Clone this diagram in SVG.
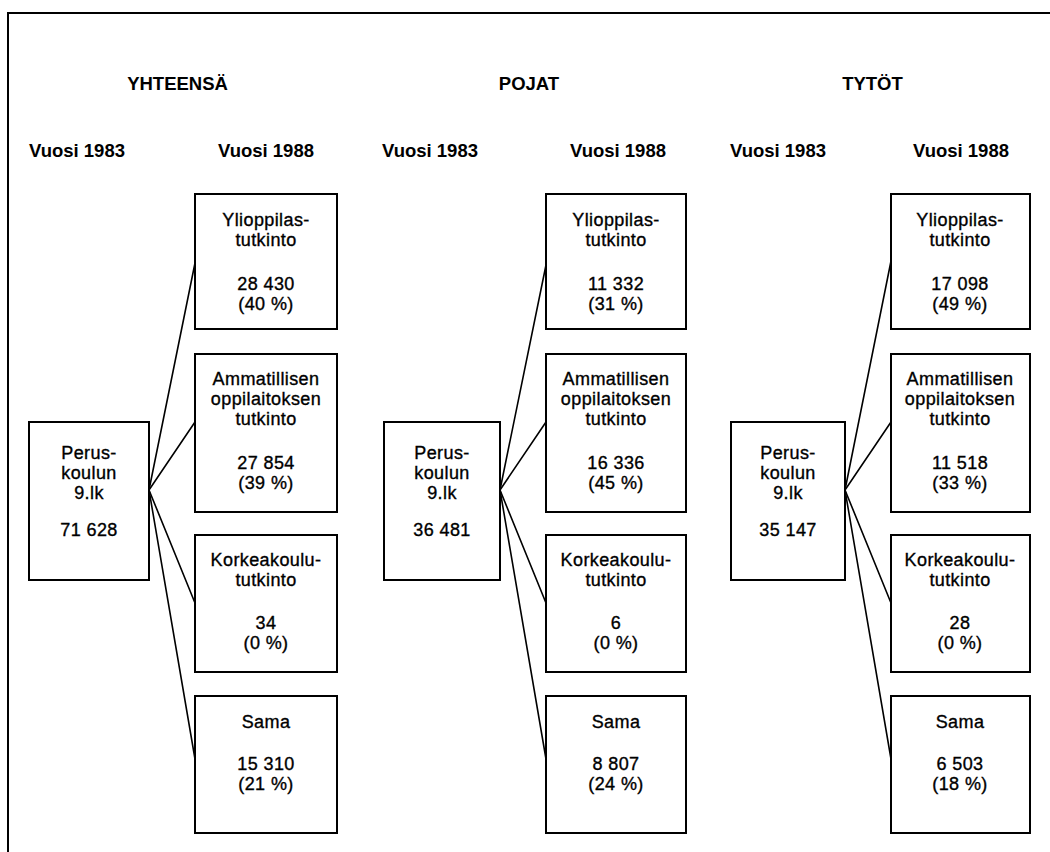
<svg xmlns="http://www.w3.org/2000/svg" width="1050" height="852" viewBox="0 0 1050 852">
<style>
.frame{fill:none;stroke:#000;stroke-width:2}
.box{fill:#fff;stroke:#000;stroke-width:2}
.conn line{stroke:#000;stroke-width:1.6;stroke-linecap:round}
.h{font-family:"Liberation Sans",Arial,sans-serif;font-weight:bold;font-size:18.5px;fill:#000}
.hc{text-anchor:middle}
.t{font-family:"Liberation Sans",Arial,sans-serif;font-size:18px;letter-spacing:0.4px;text-anchor:middle;fill:#000;stroke:#000;stroke-width:0.35}
</style>
<rect x="0" y="0" width="1050" height="852" fill="#fff"/>
<path class="frame" d="M8,852 V13 H1050"/>

<g id="headers">
  <text class="h hc" x="177.5" y="90">YHTEENSÄ</text>
  <text class="h hc" x="529" y="90">POJAT</text>
  <text class="h hc" x="872.5" y="90">TYTÖT</text>
  <text class="h" x="29" y="157">Vuosi 1983</text>
  <text class="h" x="218" y="157">Vuosi 1988</text>
  <text class="h" x="382" y="157">Vuosi 1983</text>
  <text class="h" x="570" y="157">Vuosi 1988</text>
  <text class="h" x="730" y="157">Vuosi 1983</text>
  <text class="h" x="913" y="157">Vuosi 1988</text>
</g>

<g id="connectors" class="conn">
  <line x1="149" y1="490" x2="195" y2="263"/>
  <line x1="149" y1="490" x2="195" y2="422"/>
  <line x1="149" y1="490" x2="195" y2="603"/>
  <line x1="149" y1="490" x2="195" y2="759"/>
  <line x1="500" y1="490" x2="546" y2="265"/>
  <line x1="500" y1="490" x2="546" y2="422"/>
  <line x1="500" y1="490" x2="546" y2="603"/>
  <line x1="500" y1="490" x2="546" y2="759"/>
  <line x1="845" y1="490" x2="891" y2="261"/>
  <line x1="845" y1="490" x2="891" y2="422"/>
  <line x1="845" y1="490" x2="891" y2="603"/>
  <line x1="845" y1="490" x2="891" y2="759"/>
</g>

<!-- YHTEENSÄ -->
<g id="total-1983">
  <rect class="box" x="29" y="422" width="120" height="158"/>
  <text class="t" x="89" y="459">Perus-</text>
  <text class="t" x="89" y="479">koulun</text>
  <text class="t" x="89" y="499">9.lk</text>
  <text class="t" x="89" y="536">71 628</text>
</g>
<g id="total-ylioppilas">
  <rect class="box" x="195" y="194" width="142" height="135"/>
  <text class="t" x="266" y="226">Ylioppilas-</text>
  <text class="t" x="266" y="246">tutkinto</text>
  <text class="t" x="266" y="290">28 430</text>
  <text class="t" x="266" y="310">(40 %)</text>
</g>
<g id="total-ammatillinen">
  <rect class="box" x="195" y="354" width="142" height="158"/>
  <text class="t" x="266" y="385">Ammatillisen</text>
  <text class="t" x="266" y="405">oppilaitoksen</text>
  <text class="t" x="266" y="425">tutkinto</text>
  <text class="t" x="266" y="469">27 854</text>
  <text class="t" x="266" y="489">(39 %)</text>
</g>
<g id="total-korkeakoulu">
  <rect class="box" x="195" y="535" width="142" height="137"/>
  <text class="t" x="266" y="566">Korkeakoulu-</text>
  <text class="t" x="266" y="586">tutkinto</text>
  <text class="t" x="266" y="629">34</text>
  <text class="t" x="266" y="649">(0 %)</text>
</g>
<g id="total-sama">
  <rect class="box" x="195" y="696" width="142" height="137"/>
  <text class="t" x="266" y="728">Sama</text>
  <text class="t" x="266" y="770">15 310</text>
  <text class="t" x="266" y="790">(21 %)</text>
</g>

<!-- POJAT -->
<g id="boys-1983">
  <rect class="box" x="384" y="422" width="116" height="158"/>
  <text class="t" x="442" y="459">Perus-</text>
  <text class="t" x="442" y="479">koulun</text>
  <text class="t" x="442" y="499">9.lk</text>
  <text class="t" x="442" y="536">36 481</text>
</g>
<g id="boys-ylioppilas">
  <rect class="box" x="546" y="194" width="140" height="135"/>
  <text class="t" x="616" y="226">Ylioppilas-</text>
  <text class="t" x="616" y="246">tutkinto</text>
  <text class="t" x="616" y="290">11 332</text>
  <text class="t" x="616" y="310">(31 %)</text>
</g>
<g id="boys-ammatillinen">
  <rect class="box" x="546" y="354" width="140" height="158"/>
  <text class="t" x="616" y="385">Ammatillisen</text>
  <text class="t" x="616" y="405">oppilaitoksen</text>
  <text class="t" x="616" y="425">tutkinto</text>
  <text class="t" x="616" y="469">16 336</text>
  <text class="t" x="616" y="489">(45 %)</text>
</g>
<g id="boys-korkeakoulu">
  <rect class="box" x="546" y="535" width="140" height="137"/>
  <text class="t" x="616" y="566">Korkeakoulu-</text>
  <text class="t" x="616" y="586">tutkinto</text>
  <text class="t" x="616" y="629">6</text>
  <text class="t" x="616" y="649">(0 %)</text>
</g>
<g id="boys-sama">
  <rect class="box" x="546" y="696" width="140" height="137"/>
  <text class="t" x="616" y="728">Sama</text>
  <text class="t" x="616" y="770">8 807</text>
  <text class="t" x="616" y="790">(24 %)</text>
</g>

<!-- TYTÖT -->
<g id="girls-1983">
  <rect class="box" x="731" y="422" width="114" height="158"/>
  <text class="t" x="788" y="459">Perus-</text>
  <text class="t" x="788" y="479">koulun</text>
  <text class="t" x="788" y="499">9.lk</text>
  <text class="t" x="788" y="536">35 147</text>
</g>
<g id="girls-ylioppilas">
  <rect class="box" x="891" y="194" width="139" height="135"/>
  <text class="t" x="960" y="226">Ylioppilas-</text>
  <text class="t" x="960" y="246">tutkinto</text>
  <text class="t" x="960" y="290">17 098</text>
  <text class="t" x="960" y="310">(49 %)</text>
</g>
<g id="girls-ammatillinen">
  <rect class="box" x="891" y="354" width="139" height="158"/>
  <text class="t" x="960" y="385">Ammatillisen</text>
  <text class="t" x="960" y="405">oppilaitoksen</text>
  <text class="t" x="960" y="425">tutkinto</text>
  <text class="t" x="960" y="469">11 518</text>
  <text class="t" x="960" y="489">(33 %)</text>
</g>
<g id="girls-korkeakoulu">
  <rect class="box" x="891" y="535" width="139" height="137"/>
  <text class="t" x="960" y="566">Korkeakoulu-</text>
  <text class="t" x="960" y="586">tutkinto</text>
  <text class="t" x="960" y="629">28</text>
  <text class="t" x="960" y="649">(0 %)</text>
</g>
<g id="girls-sama">
  <rect class="box" x="891" y="696" width="139" height="137"/>
  <text class="t" x="960" y="728">Sama</text>
  <text class="t" x="960" y="770">6 503</text>
  <text class="t" x="960" y="790">(18 %)</text>
</g>
</svg>
